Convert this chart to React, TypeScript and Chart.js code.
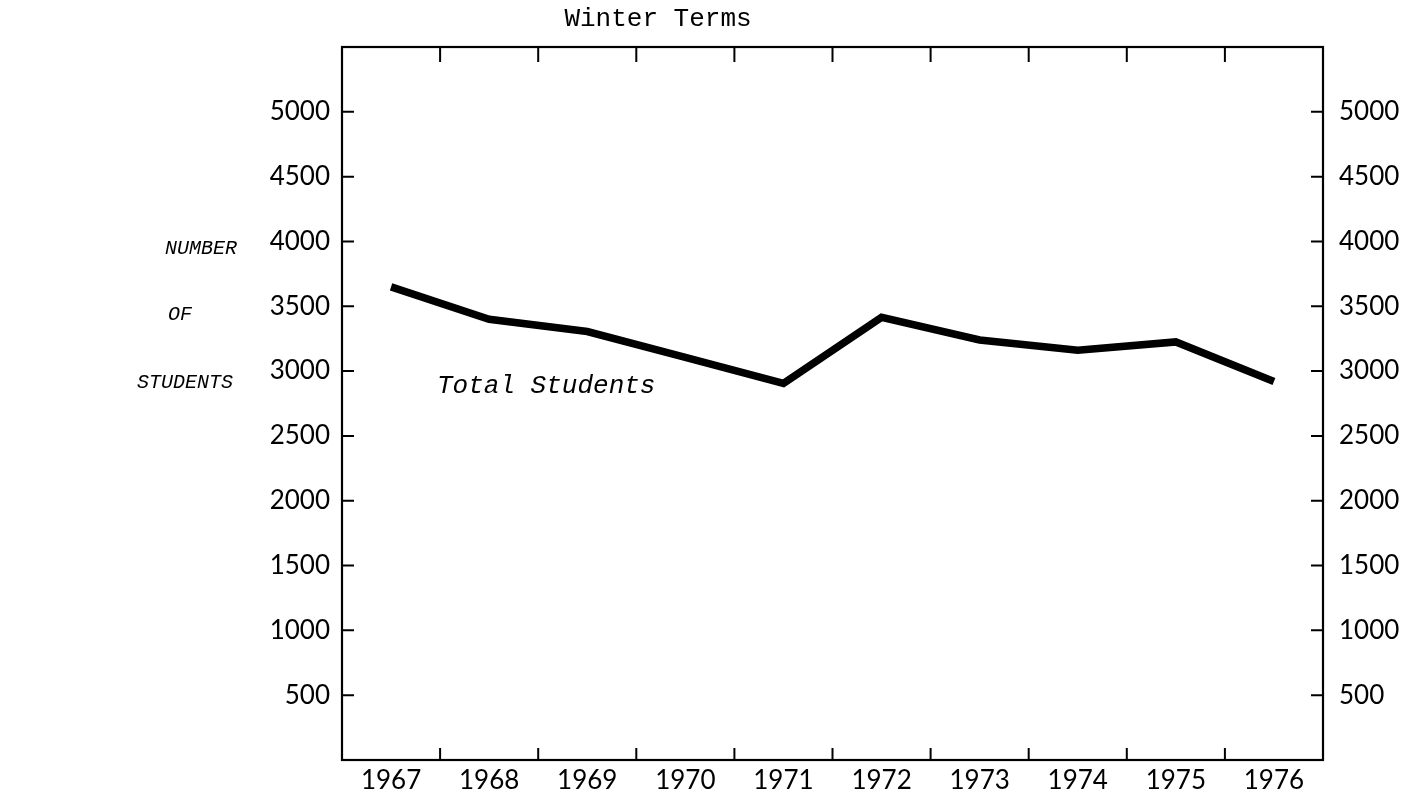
import React, { useEffect, useRef } from "react";
import { Chart, registerables } from "chart.js";

Chart.register(...registerables);

const years: string[] = ["1967", "1968", "1969", "1970", "1971", "1972", "1973", "1974", "1975", "1976"];
const totalStudents: number[] = [3650, 3400, 3305, 3105, 2905, 3415, 3240, 3160, 3225, 2920];
const yTickValues: number[] = [500, 1000, 1500, 2000, 2500, 3000, 3500, 4000, 4500, 5000];
const chartTitle = "Winter Terms";
const seriesLabel = "Total Students";
const yTitleLines: string[] = ["NUMBER", "OF", "STUDENTS"];

const FRAME_LEFT = 342;
const FRAME_RIGHT = 1323;
const FRAME_TOP = 47;
const FRAME_BOTTOM = 760;
const TICK = 11;

const framePlugin = {
  id: "framePlugin",
  afterDraw(chart: any) {
    const ctx = chart.ctx as CanvasRenderingContext2D;
    const { left, right, top, bottom } = chart.chartArea;
    const xs = chart.scales.x;
    const ys = chart.scales.y;
    ctx.save();
    ctx.strokeStyle = "#000";
    ctx.lineWidth = 2.2;
    ctx.lineCap = "square";
    ctx.strokeRect(left, top, right - left, bottom - top);
    ctx.lineWidth = 2;
    ctx.beginPath();
    for (const v of yTickValues) {
      const py = ys.getPixelForValue(v);
      ctx.moveTo(left, py);
      ctx.lineTo(left + TICK, py);
      ctx.moveTo(right, py);
      ctx.lineTo(right - TICK, py);
    }
    for (let i = 0; i < years.length - 1; i++) {
      const px = (xs.getPixelForValue(i) + xs.getPixelForValue(i + 1)) / 2;
      ctx.moveTo(px, bottom);
      ctx.lineTo(px, bottom - TICK);
      ctx.moveTo(px, top);
      ctx.lineTo(px, top + TICK + 3);
    }
    ctx.stroke();

    ctx.fillStyle = "#000";
    ctx.textAlign = "center";
    ctx.textBaseline = "middle";
    ctx.font = "26px 'Liberation Mono'";
    ctx.fillText(chartTitle, 658, 19);

    ctx.font = "italic 26px 'Liberation Mono'";
    ctx.textAlign = "left";
    ctx.fillText(seriesLabel, 437, 386);

    ctx.font = "italic 20px 'Liberation Mono'";
    ctx.textAlign = "left";
    const lx = [165, 168, 137];
    const ly = [249, 315, 383];
    yTitleLines.forEach((t, i) => ctx.fillText(t, lx[i], ly[i]));
    ctx.restore();
  },
};

export default function App() {
  const ref = useRef<HTMLCanvasElement | null>(null);
  useEffect(() => {
    if (!ref.current) return;
    const tickFont = { family: "Lato", size: 26 };
    const yTicks = {
      stepSize: 500,
      color: "#000",
      font: tickFont,
      callback: (v: any) => (Number(v) >= 500 && Number(v) <= 5000 ? String(v) : ""),
    };
    const chart = new Chart(ref.current, {
      type: "line",
      data: {
        labels: years,
        datasets: [
          {
            label: seriesLabel,
            data: totalStudents,
            borderColor: "#000",
            backgroundColor: "#000",
            borderWidth: 7.5,
            pointRadius: 0,
            tension: 0,
            borderJoinStyle: "miter",
            borderCapStyle: "butt",
          },
        ],
      },
      options: {
        animation: false,
        responsive: true,
        maintainAspectRatio: false,
        layout: { padding: { top: FRAME_TOP, left: 0, right: 0, bottom: 0 } },
        plugins: { legend: { display: false }, tooltip: { enabled: false }, title: { display: false } },
        scales: {
          x: {
            type: "category",
            offset: true,
            grid: { display: false, drawTicks: false },
            border: { display: false },
            ticks: { color: "#000", font: tickFont, padding: 5, maxRotation: 0, autoSkip: false },
            afterFit: (s: any) => {
              s.height = 799 - FRAME_BOTTOM;
            },
          },
          y: {
            position: "left",
            min: 0,
            max: 5500,
            grid: { display: false, drawTicks: false },
            border: { display: false },
            ticks: { ...yTicks, padding: 12 },
            afterFit: (s: any) => {
              s.width = FRAME_LEFT;
            },
          },
          yRight: {
            position: "right",
            min: 0,
            max: 5500,
            grid: { display: false, drawTicks: false },
            border: { display: false },
            ticks: { ...yTicks, padding: 16 },
            afterFit: (s: any) => {
              s.width = 1424 - FRAME_RIGHT;
            },
          },
        },
      } as any,
      plugins: [framePlugin],
    });
    return () => chart.destroy();
  }, []);
  return (
    <div style={{ position: "fixed", left: 0, top: 0, width: "1424px", height: "799px", background: "#fff" }}>
      <canvas ref={ref} style={{ display: "block" }} />
    </div>
  );
}
